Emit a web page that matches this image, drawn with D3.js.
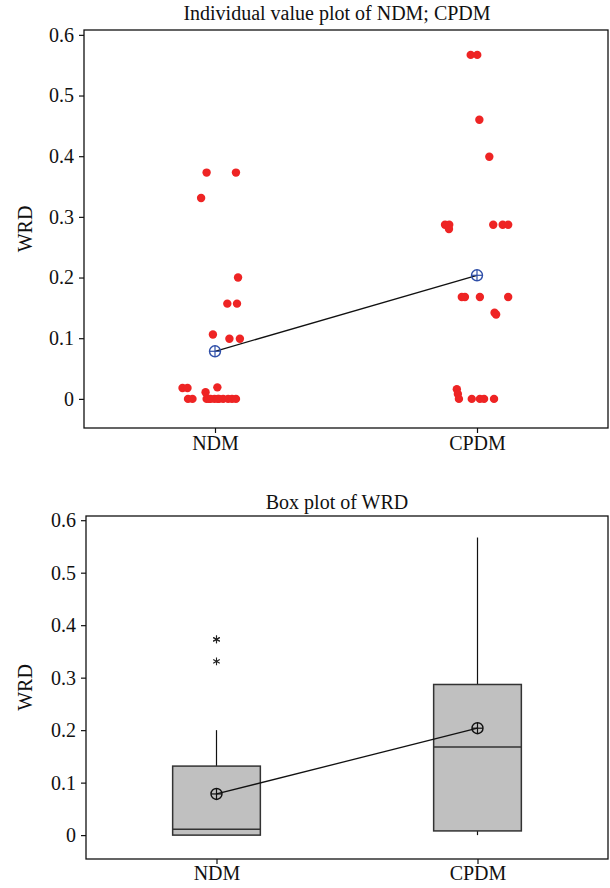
<!DOCTYPE html>
<html>
<head>
<meta charset="utf-8">
<script src="https://cdn.jsdelivr.net/npm/d3@7"></script>
<style>
  body { margin: 0; background: #fff; }
  text { font-family: "Liberation Serif", "DejaVu Serif", serif; fill: #111; }
</style>
</head>
<body>
<svg id="chart"></svg>
<script>
// groups on the x axis
const groups = ["NDM", "CPDM"];

// WRD values, with the small sideways jitter of each dot
const ndmValues = [0.373, 0.373, 0.331, 0.200, 0.157, 0.157, 0.106, 0.099, 0.099,
    0.018, 0.018, 0.019, 0.011, 0, 0, 0, 0, 0, 0, 0, 0, 0, 0, 0, 0];
const ndmJitter = [-0.032, 0.080, -0.053, 0.088, 0.047, 0.084, -0.008, 0.055, 0.095,
    -0.124, -0.105, 0.009, -0.036, -0.103, -0.086, -0.032, -0.017, -0.002, 0.015,
    0.031, 0.050, 0.065, 0.080, -0.023, 0.011];

const cpdmValues = [0.567, 0.567, 0.460, 0.399, 0.287, 0.287, 0.280, 0.287, 0.287, 0.287,
    0.168, 0.168, 0.168, 0.168, 0.142, 0.139, 0.016, 0.008, 0, 0, 0, 0, 0];
const cpdmJitter = [-0.024, 0.001, 0.009, 0.047, -0.122, -0.106, -0.107, 0.062, 0.098, 0.119,
    -0.058, -0.046, 0.011, 0.119, 0.067, 0.073, -0.077, -0.073, -0.069, -0.020,
    0.011, 0.027, 0.065];

const yTicks = [0, 0.1, 0.2, 0.3, 0.4, 0.5, 0.6];
const yTickLabels = ["0", "0.1", "0.2", "0.3", "0.4", "0.5", "0.6"];

const W = 610, H = 888;
const svg = d3.select("#chart").attr("width", W).attr("height", H);

const series = [
    { name: groups[0], pos: 1, values: ndmValues, jitter: ndmJitter },
    { name: groups[1], pos: 2, values: cpdmValues, jitter: cpdmJitter }
];
series.forEach(s => s.mean = d3.mean(s.values));

// quartiles the way Minitab does them: position p*(n+1)
function quart(sorted, p) {
    const n = sorted.length;
    const pos = p * (n + 1);
    const lo = Math.floor(pos), frac = pos - lo;
    if (lo < 1) return sorted[0];
    if (lo >= n) return sorted[n - 1];
    return sorted[lo - 1] + frac * (sorted[lo] - sorted[lo - 1]);
}
series.forEach(s => {
    const v = s.values.slice().sort(d3.ascending);
    s.q1 = quart(v, 0.25);
    s.med = quart(v, 0.5);
    s.q3 = quart(v, 0.75);
    const iqr = s.q3 - s.q1;
    const hiFence = s.q3 + 1.5 * iqr, loFence = s.q1 - 1.5 * iqr;
    s.whiskHi = d3.max(v.filter(d => d <= hiFence));
    s.whiskLo = d3.min(v.filter(d => d >= loFence));
    s.outliers = v.filter(d => d > hiFence || d < loFence);
});

function frame(g, x, y, title, titleY, labelPad) {
    const [x0, x1] = x.range();
    const [y0, y1] = y.range();

    g.append("rect")
        .attr("x", x0).attr("y", y1)
        .attr("width", x1 - x0).attr("height", y0 - y1)
        .attr("fill", "none").attr("stroke", "#111").attr("stroke-width", 1.3);

    // y axis
    const yAxis = g.append("g")
        .attr("transform", `translate(${x0},0)`)
        .call(d3.axisLeft(y).tickValues(yTicks).tickFormat((d, i) => yTickLabels[i]).tickSize(5).tickPadding(5));
    yAxis.select(".domain").remove();
    yAxis.selectAll("line").attr("stroke", "#111").attr("stroke-width", 1.2);
    yAxis.selectAll("text").attr("font-size", 20).attr("fill", "#111")
        .style("font-family", '"Liberation Serif", serif');

    // x axis
    const xAxis = g.append("g")
        .attr("transform", `translate(0,${y0})`)
        .call(d3.axisBottom(x).tickValues(series.map(s => s.pos)).tickFormat((d, i) => groups[i]).tickSize(5).tickPadding(labelPad));
    xAxis.select(".domain").remove();
    xAxis.selectAll("line").attr("stroke", "#111").attr("stroke-width", 1.2);
    xAxis.selectAll("text").attr("font-size", 20).attr("fill", "#111")
        .style("font-family", '"Liberation Serif", serif');

    g.append("text")
        .attr("x", 337).attr("y", titleY)
        .attr("text-anchor", "middle").attr("font-size", 20)
        .text(title);

    g.append("text")
        .attr("transform", `translate(32,${(y0 + y1) / 2}) rotate(-90)`)
        .attr("text-anchor", "middle").attr("font-size", 20)
        .text("WRD");
}

function meanMark(g, x, y, color) {
    const m = g.append("g");
    const r = 5.5;
    m.selectAll("circle").data(series).enter().append("circle")
        .attr("cx", d => x(d.pos)).attr("cy", d => y(d.mean)).attr("r", r)
        .attr("fill", "none").attr("stroke", color).attr("stroke-width", 1.4);
    m.selectAll("line.h").data(series).enter().append("line")
        .attr("x1", d => x(d.pos) - r).attr("x2", d => x(d.pos) + r)
        .attr("y1", d => y(d.mean)).attr("y2", d => y(d.mean))
        .attr("stroke", color).attr("stroke-width", 1.2);
    m.selectAll("line.v").data(series).enter().append("line")
        .attr("x1", d => x(d.pos)).attr("x2", d => x(d.pos))
        .attr("y1", d => y(d.mean) - r).attr("y2", d => y(d.mean) + r)
        .attr("stroke", color).attr("stroke-width", 1.2);
}

// ---------- top: individual value plot ----------
const xTop = d3.scaleLinear().domain([0.5, 2.5]).range([84, 608]);
const yTop = d3.scaleLinear().domain([-0.048, 0.608]).range([428, 30]);
const gTop = svg.append("g");

const dots = series.flatMap(s => s.values.map((v, i) => ({ pos: s.pos + s.jitter[i], v })));
gTop.append("g").selectAll("circle")
    .data(dots).enter().append("circle")
    .attr("cx", d => xTop(d.pos)).attr("cy", d => yTop(d.v)).attr("r", 4.2)
    .attr("fill", "#ee2424");

gTop.append("path")
    .datum(series)
    .attr("d", d3.line().x(d => xTop(d.pos)).y(d => yTop(d.mean)))
    .attr("fill", "none").attr("stroke", "#111").attr("stroke-width", 1.3);
meanMark(gTop, xTop, yTop, "#2f4fa8");
frame(gTop, xTop, yTop, "Individual value plot of NDM; CPDM", 20, 3);

// ---------- bottom: box plot ----------
const xBot = d3.scaleLinear().domain([0.5, 2.5]).range([86, 608]);
const yBot = d3.scaleLinear().domain([-0.0455, 0.608]).range([859, 516]);
const gBot = svg.append("g");
const boxW = 0.336;

const bx = gBot.append("g").selectAll("g").data(series).enter().append("g");
bx.append("line")
    .attr("x1", d => xBot(d.pos)).attr("x2", d => xBot(d.pos))
    .attr("y1", d => yBot(d.q3)).attr("y2", d => yBot(d.whiskHi))
    .attr("stroke", "#111").attr("stroke-width", 1.2);
bx.append("line")
    .attr("x1", d => xBot(d.pos)).attr("x2", d => xBot(d.pos))
    .attr("y1", d => yBot(d.q1)).attr("y2", d => yBot(d.whiskLo))
    .attr("stroke", "#111").attr("stroke-width", 1.2);
bx.append("rect")
    .attr("x", d => xBot(d.pos - boxW / 2))
    .attr("width", d => xBot(d.pos + boxW / 2) - xBot(d.pos - boxW / 2))
    .attr("y", d => yBot(d.q3))
    .attr("height", d => yBot(d.q1) - yBot(d.q3))
    .attr("fill", "#c0c0c0").attr("stroke", "#333").attr("stroke-width", 1.5);
bx.append("line")
    .attr("x1", d => xBot(d.pos - boxW / 2)).attr("x2", d => xBot(d.pos + boxW / 2))
    .attr("y1", d => yBot(d.med)).attr("y2", d => yBot(d.med))
    .attr("stroke", "#333").attr("stroke-width", 1.5);

const outl = series.flatMap(s => s.outliers.map(v => ({ pos: s.pos, v })));
const star = d3.symbolAsterisk ? d3.symbol().type(d3.symbolAsterisk).size(40) : null;
if (star) {
    gBot.append("g").selectAll("path").data(outl).enter().append("path")
        .attr("transform", d => `translate(${xBot(d.pos)},${yBot(d.v)})`)
        .attr("d", star).attr("fill", "none").attr("stroke", "#222").attr("stroke-width", 1.1);
} else {
    gBot.append("g").selectAll("text").data(outl).enter().append("text")
        .attr("x", d => xBot(d.pos)).attr("y", d => yBot(d.v) + 7)
        .attr("text-anchor", "middle").attr("font-size", 18).text("*");
}

gBot.append("path")
    .datum(series)
    .attr("d", d3.line().x(d => xBot(d.pos)).y(d => yBot(d.mean)))
    .attr("fill", "none").attr("stroke", "#111").attr("stroke-width", 1.3);
meanMark(gBot, xBot, yBot, "#111");
frame(gBot, xBot, yBot, "Box plot of WRD", 509, 2);
</script>
</body>
</html>
